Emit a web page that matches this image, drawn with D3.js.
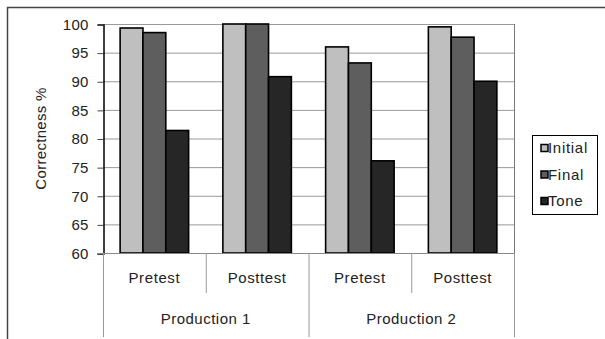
<!DOCTYPE html>
<html>
<head>
<meta charset="utf-8">
<script src="https://cdn.jsdelivr.net/npm/d3@7"></script>
<style>
  html, body { margin: 0; padding: 0; background: #fff; }
  svg { display: block; }
  text { font-family: Arial, "Liberation Sans", sans-serif; fill: #222; }
</style>
</head>
<body>
<svg id="chart" width="605" height="339"></svg>
<script>
// Test phases within each production task
const groups = ["Production 1", "Production 2"];
const phases = ["Pretest", "Posttest"];
const series = ["Initial", "Final", "Tone"];
const colors = ["#bfbfbf", "#5e5e5e", "#262626"];

// Correctness % per series, ordered P1 Pretest, P1 Posttest, P2 Pretest, P2 Posttest
const initialVals = [99.3, 100, 96.0, 99.5];
const finalVals   = [98.5, 100, 93.2, 97.7];
const toneVals    = [81.4, 90.8, 76.1, 90.0];
const yTicks = [60, 65, 70, 75, 80, 85, 90, 95, 100];

const valuesBySeries = [initialVals, finalVals, toneVals];
const categories = [];
groups.forEach(g => phases.forEach(p => categories.push({ group: g, phase: p, key: g + "|" + p })));

const svg = d3.select("#chart");
const plot = { left: 103, top: 24, right: 514, bottom: 253 };
const FONT = "15px";

// outer chart frame
svg.append("rect")
  .attr("x", 7.5).attr("y", 7.5)
  .attr("width", 700).attr("height", 400)
  .attr("fill", "none").attr("stroke", "#444").attr("stroke-width", 1.5);

const x = d3.scaleBand()
  .domain(categories.map(d => d.key))
  .range([plot.left, plot.right])
  .paddingInner(0).paddingOuter(0);

const inner = d3.scaleBand()
  .domain(series)
  .range([0, x.bandwidth()])
  .paddingInner(0)
  .paddingOuter(0.75);

const y = d3.scaleLinear().domain([60, 100]).range([plot.bottom, plot.top]);

// horizontal gridlines
svg.append("g")
  .selectAll("line")
  .data(yTicks)
  .join("line")
  .attr("x1", plot.left).attr("x2", plot.right)
  .attr("y1", d => y(d) + 0.5).attr("y2", d => y(d) + 0.5)
  .attr("stroke", "#999").attr("stroke-width", 1);

// right edge of plot area
svg.append("line")
  .attr("x1", plot.right + 0.5).attr("x2", plot.right + 0.5)
  .attr("y1", plot.top).attr("y2", plot.bottom)
  .attr("stroke", "#777").attr("stroke-width", 1);

// bars
const rows = [];
categories.forEach((c, i) => {
  series.forEach((s, j) => rows.push({ key: c.key, s, j, v: valuesBySeries[j][i] }));
});
svg.append("g")
  .selectAll("rect")
  .data(rows)
  .join("rect")
  .attr("x", d => x(d.key) + inner(d.s))
  .attr("y", d => y(d.v))
  .attr("width", inner.bandwidth())
  .attr("height", d => y(60) - y(d.v))
  .attr("fill", d => colors[d.j])
  .attr("stroke", "#000")
  .attr("stroke-width", 1.6);

// y axis
const yAxis = svg.append("g")
  .attr("transform", `translate(${plot.left + 0.5},0.5)`)
  .call(d3.axisLeft(y).tickValues(yTicks).tickSize(6).tickPadding(9));
yAxis.select(".domain").attr("stroke", "#000").attr("stroke-width", 1.5);
yAxis.selectAll(".tick line").attr("stroke", "#444");
yAxis.selectAll(".tick text")
  .style("font-size", FONT).style("font-family", "Arial, 'Liberation Sans', sans-serif")
  .attr("fill", "#222").attr("letter-spacing", "0.2px");

// y axis title
svg.append("text")
  .attr("transform", `translate(41,${(plot.top + plot.bottom) / 2}) rotate(-90)`)
  .attr("text-anchor", "middle")
  .attr("dy", "0.35em")
  .attr("letter-spacing", "0.3px")
  .style("font-size", FONT)
  .text("Correctness %");

// x axis baseline
svg.append("line")
  .attr("x1", plot.left - 5).attr("x2", plot.right)
  .attr("y1", plot.bottom + 0.5).attr("y2", plot.bottom + 0.5)
  .attr("stroke", "#888").attr("stroke-width", 1);

// category dividers: short between phases, long between productions
const dividerXs = categories.map(c => x(c.key)).concat([plot.right]);
svg.append("g")
  .selectAll("line")
  .data(dividerXs)
  .join("line")
  .attr("x1", d => d + 0.5).attr("x2", d => d + 0.5)
  .attr("y1", plot.bottom)
  .attr("y2", (d, i) => (i % 2 === 0 ? 337 : 293))
  .attr("stroke", "#999").attr("stroke-width", 1);

// phase labels
svg.append("g")
  .selectAll("text")
  .data(categories)
  .join("text")
  .attr("x", d => x(d.key) + x.bandwidth() / 2)
  .attr("y", 283)
  .attr("text-anchor", "middle")
  .attr("letter-spacing", "0.6px")
  .style("font-size", FONT)
  .text(d => d.phase);

// production labels
svg.append("g")
  .selectAll("text")
  .data(groups)
  .join("text")
  .attr("x", g => {
    const ks = categories.filter(c => c.group === g).map(c => x(c.key));
    return (d3.min(ks) + d3.max(ks) + x.bandwidth()) / 2;
  })
  .attr("y", 324)
  .attr("text-anchor", "middle")
  .attr("letter-spacing", "0.5px")
  .style("font-size", FONT)
  .text(g => g);

// legend
const legend = svg.append("g");
legend.append("rect")
  .attr("x", 532.5).attr("y", 135.5)
  .attr("width", 65).attr("height", 79)
  .attr("fill", "#fff").attr("stroke", "#000").attr("stroke-width", 1);
const items = legend.selectAll("g.item")
  .data(series)
  .join("g")
  .attr("class", "item")
  .attr("transform", (d, i) => `translate(0,${148 + i * 26.5})`);
items.append("rect")
  .attr("x", 541).attr("y", -3.5)
  .attr("width", 7).attr("height", 7)
  .attr("fill", (d, i) => colors[i])
  .attr("stroke", "#000").attr("stroke-width", 1.5);
items.append("text")
  .attr("x", 548)
  .attr("dy", "0.36em")
  .attr("letter-spacing", "0.7px")
  .style("font-size", FONT)
  .text(d => d);
</script>
</body>
</html>
